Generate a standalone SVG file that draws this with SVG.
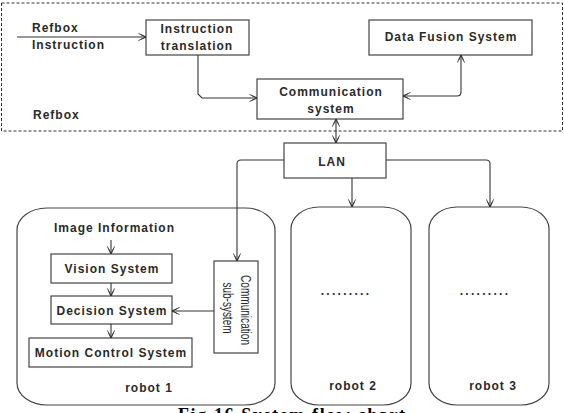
<svg xmlns="http://www.w3.org/2000/svg" width="564" height="413" viewBox="0 0 564 413">
<defs>
<style>
text{font-family:"Liberation Sans",Arial,sans-serif;font-size:12px;font-weight:bold;fill:#2a2a2a;letter-spacing:1px}
.box{fill:#fff;stroke:#444;stroke-width:1.2}
.rob{fill:#fff;stroke:#444;stroke-width:1.2}
.ln{fill:none;stroke:#333;stroke-width:1.1}
.rot{font-weight:normal;font-size:14px;letter-spacing:0}
.cap{font-family:"Liberation Serif","Times New Roman",serif;font-size:18px;font-weight:bold;fill:#000}
</style>
<marker id="ah" viewBox="0 0 10 10" refX="9.5" refY="5" markerWidth="8" markerHeight="8" orient="auto-start-reverse" markerUnits="userSpaceOnUse">
<path d="M0,0.5 L9.5,5 L0,9.5 M3,2 L9.5,5 L3,8" fill="none" stroke="#333" stroke-width="1.1"/>
</marker>
</defs>
<rect width="564" height="413" fill="#fff"/>
<rect id="refbox-area" x="1.5" y="3" width="561" height="128" fill="none" stroke="#333" stroke-width="1" stroke-dasharray="3,2"/>
<text x="32" y="32">Refbox</text>
<text x="32" y="49">Instruction</text>
<text x="33" y="119">Refbox</text>
<g id="instruction-translation">
<rect class="box" x="146" y="20" width="103" height="35"/>
<text x="197" y="33" text-anchor="middle">Instruction</text>
<text x="197" y="50" text-anchor="middle">translation</text>
</g>
<g id="data-fusion">
<rect class="box" x="369" y="20" width="163" height="35"/>
<text x="451" y="41" text-anchor="middle">Data Fusion System</text>
</g>
<g id="communication-system">
<rect class="box" x="257" y="79" width="146" height="40"/>
<text x="331" y="96" text-anchor="middle">Communication</text>
<text x="331" y="113" text-anchor="middle">system</text>
</g>
<g id="lan">
<rect class="box" x="284" y="143" width="102" height="35"/>
<text x="332" y="166" text-anchor="middle">LAN</text>
</g>
<g id="robot1">
<rect class="rob" x="17" y="208" width="258" height="197" rx="30" ry="22"/>
<text x="54" y="232">Image Information</text>
<text x="149" y="392" text-anchor="middle">robot 1</text>
</g>
<g id="vision">
<rect class="box" x="51" y="254" width="121" height="29"/>
<text x="112" y="273" text-anchor="middle">Vision System</text>
</g>
<g id="decision">
<rect class="box" x="51" y="296" width="121" height="28"/>
<text x="112" y="315" text-anchor="middle">Decision System</text>
</g>
<g id="motion">
<rect class="box" x="29" y="338" width="163" height="29"/>
<text x="111" y="357" text-anchor="middle">Motion Control System</text>
</g>
<g id="comm-subsystem">
<rect class="box" x="214" y="261" width="44" height="92"/>
<text class="rot" transform="translate(241,310) rotate(90)" text-anchor="middle" textLength="70" lengthAdjust="spacingAndGlyphs">Communication</text>
<text class="rot" transform="translate(223,308) rotate(90)" text-anchor="middle" textLength="51" lengthAdjust="spacingAndGlyphs">sub-system</text>
</g>
<g id="robot2">
<rect class="rob" x="291" y="207" width="120" height="198" rx="28" ry="22"/>
<text x="346" y="295" text-anchor="middle" style="letter-spacing:2.3px">.........</text>
<text x="353" y="390" text-anchor="middle">robot 2</text>
</g>
<g id="robot3">
<rect class="rob" x="429" y="207" width="120" height="198" rx="28" ry="22"/>
<text x="485" y="295" text-anchor="middle" style="letter-spacing:2.3px">.........</text>
<text x="493" y="390" text-anchor="middle">robot 3</text>
</g>
<g id="connectors">
<path class="ln" d="M17,37 H146" marker-end="url(#ah)"/>
<path class="ln" d="M198,55 V94 L202,98 H257" marker-end="url(#ah)"/>
<path class="ln" d="M403,96 H457 Q461,96 461,92 V55" marker-start="url(#ah)" marker-end="url(#ah)"/>
<path class="ln" d="M336,119 V143" marker-start="url(#ah)" marker-end="url(#ah)"/>
<path class="ln" d="M284,160 H241 Q237,160 237,164 V261" marker-end="url(#ah)"/>
<path class="ln" d="M352,178 V207" marker-end="url(#ah)"/>
<path class="ln" d="M386,160 H486 Q490,160 490,164 V207" marker-end="url(#ah)"/>
<path class="ln" d="M111,240 V254" marker-end="url(#ah)"/>
<path class="ln" d="M111,283 V296" marker-end="url(#ah)"/>
<path class="ln" d="M111,324 V338" marker-end="url(#ah)"/>
<path class="ln" d="M214,311 H172" marker-end="url(#ah)"/>
</g>
<text class="cap" x="178" y="421" textLength="228" lengthAdjust="spacing">Fig.16 System flow chart</text>
</svg>
